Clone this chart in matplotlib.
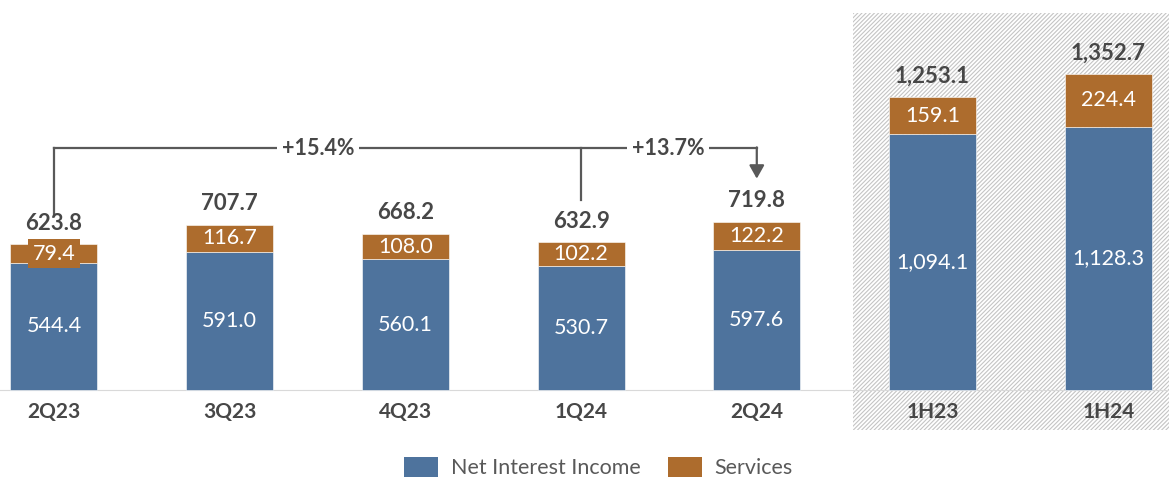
import matplotlib
matplotlib.use("Agg")
import matplotlib.pyplot as plt
from matplotlib.patches import Patch, Rectangle
import numpy as np

categories = ["2Q23", "3Q23", "4Q23", "1Q24", "2Q24", "1H23", "1H24"]
nii = [544.4, 591.0, 560.1, 530.7, 597.6, 1094.1, 1128.3]
services = [79.4, 116.7, 108.0, 102.2, 122.2, 159.1, 224.4]
totals = [623.8, 707.7, 668.2, 632.9, 719.8, 1253.1, 1352.7]
growth_labels = ["+15.4%", "+13.7%"]

BLUE = "#4E739D"
ORANGE = "#AD6C2D"
DARK = "#474747"
LINE = "#595959"

plt.rcParams["font.family"] = ["Lato", "DejaVu Sans"]
plt.rcParams["hatch.linewidth"] = 0.8
plt.rcParams["hatch.color"] = "#C4C4C4"

fig = plt.figure(figsize=(11.69, 4.79), dpi=100)
ax = fig.add_axes([0, 0, 1, 1])
ax.set_xlim(-0.307, 6.346)
ax.set_ylim(-381, 1670)
ax.axis("off")

x = np.arange(len(categories))

# hatched background for half-year bars
hatch_rect = Rectangle((4.548, -171), 6.346 - 4.548, 1615 + 171,
                       facecolor="white", edgecolor="#C4C4C4", hatch="////////",
                       linewidth=0, zorder=0)
ax.add_patch(hatch_rect)

# baseline
ax.plot([-0.307, 6.346], [0, 0], color="#D9D9D9", lw=0.8, zorder=1)

w = 0.495
ax.bar(x, nii, width=w, color=BLUE, zorder=2, edgecolor="white", linewidth=0.4)
ax.bar(x, services, width=w, bottom=nii, color=ORANGE, zorder=2,
       edgecolor="white", linewidth=0.4)

for i in range(len(categories)):
    ax.text(x[i], nii[i] / 2, f"{nii[i]:,.1f}", ha="center", va="center",
            color="white", fontsize=15.5, zorder=4)
    pad = 0.2 if services[i] < 90 else 0.05
    ax.text(x[i], nii[i] + services[i] / 2, f"{services[i]:,.1f}", ha="center",
            va="center", color="white", fontsize=15.5, zorder=4,
            bbox=dict(boxstyle=f"square,pad={pad}", facecolor=ORANGE, edgecolor="none"))
    ax.text(x[i], totals[i] + 45, f"{totals[i]:,.1f}", ha="center", va="bottom",
            color=DARK, fontsize=16, fontweight="bold", zorder=4)
    ax.text(x[i], -94, categories[i], ha="center", va="center",
            color=DARK, fontsize=15, fontweight="bold", zorder=4)

# growth bracket
yb = 1036
ax.plot([x[0], x[0]], [745, yb], color=LINE, lw=1.6, zorder=3)
ax.plot([x[0], x[4]], [yb, yb], color=LINE, lw=1.6, zorder=3)
ax.plot([x[3], x[3]], [814, yb], color=LINE, lw=1.6, zorder=3)
ax.annotate("", xy=(x[4], 905), xytext=(x[4], yb + 3),
            arrowprops=dict(arrowstyle="-|>,head_length=0.8,head_width=0.45",
                            color=LINE, lw=1.6, shrinkA=0, shrinkB=0), zorder=3)
for xc, lab in zip([(318 - 54) / 175.7, (668 - 54) / 175.7], growth_labels):
    ax.text(xc, yb, lab, ha="center", va="center", color=DARK, fontsize=15.5,
            fontweight="bold", zorder=4,
            bbox=dict(boxstyle="square,pad=0.2", facecolor="white", edgecolor="none"))

handles = [Patch(facecolor=BLUE, label="Net Interest Income"),
           Patch(facecolor=ORANGE, label="Services")]
fig.legend(handles=handles, loc="center", bbox_to_anchor=(0.512, 0.024), ncol=2,
           frameon=False, fontsize=15.5, handlelength=1.55, handleheight=1.1,
           columnspacing=1.3, handletextpad=0.6, labelcolor="#595959")

fig.savefig("out.png", dpi=100)
